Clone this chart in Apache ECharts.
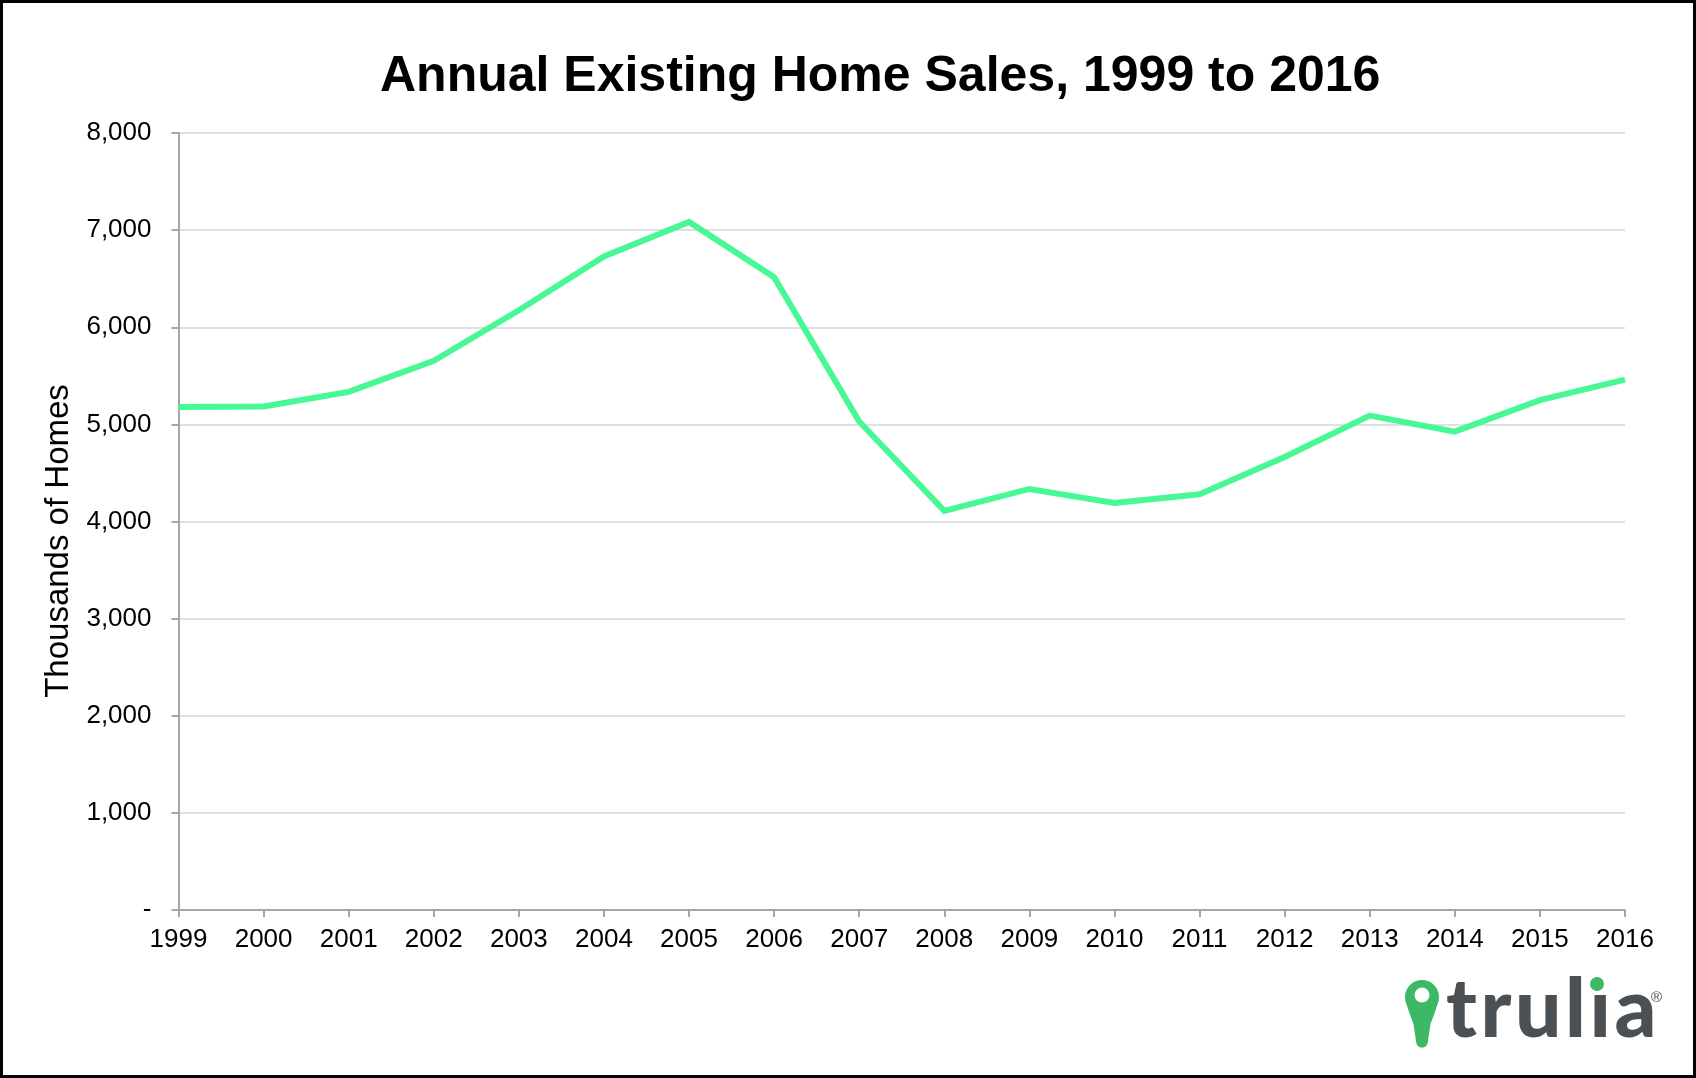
<!DOCTYPE html>
<html>
<head>
<meta charset="utf-8">
<script src="https://cdn.jsdelivr.net/npm/echarts@6/dist/echarts.min.js"></script>
<style>
  html, body { margin: 0; padding: 0; background: #fff; }
  #chart { width: 1696px; height: 1078px; }
</style>
</head>
<body>
<div id="chart"></div>
<script>
const titleText = 'Annual Existing Home Sales, 1999 to 2016';
const yAxisName = 'Thousands of Homes';
const years = ['1999','2000','2001','2002','2003','2004','2005','2006','2007','2008','2009','2010','2011','2012','2013','2014','2015','2016'];
const sales = [5180, 5185, 5335, 5655, 6175, 6730, 7085, 6515, 5030, 4110, 4335, 4190, 4280, 4665, 5090, 4925, 5250, 5460];
const yTicks = [0, 1000, 2000, 3000, 4000, 5000, 6000, 7000, 8000];
const logoLetters = ['t', 'r', 'u', 'l', '\u0131', 'a'];

const chart = echarts.init(document.getElementById('chart'), null, { renderer: 'canvas' });
const sans = '"Liberation Sans", Arial, sans-serif';
const logoText = logoLetters.map((c, i) => '{' + (i < logoLetters.length - 1 ? 'g' : 'e') + '|' + c + '}').join('');
const logoFont = { fontFamily: 'Lato, "Open Sans", sans-serif', fontWeight: 900, fontSize: 82, fill: '#4A5054' };
const option = {
  backgroundColor: '#ffffff',
  animation: false,
  title: {
    text: titleText,
    left: 375,
    top: 47,
    textStyle: { fontFamily: sans, fontWeight: 'bold', fontSize: 50, color: '#000' }
  },
  grid: { left: 178.5, right: 71, top: 133, bottom: 168, containLabel: false },
  xAxis: {
    type: 'category',
    data: years,
    boundaryGap: false,
    axisLine: { lineStyle: { color: '#a6a6a6', width: 2 } },
    axisTick: { show: true, length: 7, interval: 0, alignWithLabel: true, lineStyle: { color: '#a6a6a6', width: 2 } },
    axisLabel: { interval: 0, margin: 17, fontFamily: sans, fontSize: 26, color: '#000' },
    splitLine: { show: false }
  },
  yAxis: {
    type: 'value',
    min: yTicks[0],
    max: yTicks[yTicks.length - 1],
    interval: 1000,
    name: yAxisName,
    nameLocation: 'middle',
    nameGap: 100,
    nameTextStyle: { fontFamily: sans, fontSize: 33, color: '#000', padding: [0, 39, 0, 0] },
    axisLine: { show: true, lineStyle: { color: '#a6a6a6', width: 2 } },
    axisTick: { show: true, length: 7, lineStyle: { color: '#a6a6a6', width: 2 } },
    axisLabel: {
      margin: 27,
      fontFamily: sans,
      fontSize: 26,
      color: '#000',
      formatter: v => v === 0 ? '-' : v.toLocaleString('en-US')
    },
    splitLine: { show: true, lineStyle: { color: '#d6d6d6', width: 1.5 } }
  },
  series: [{
    type: 'line',
    data: sales,
    symbol: 'none',
    lineStyle: { color: '#48F895', width: 6, join: 'miter' },
    z: 5
  }],
  graphic: [
    { type: 'rect', shape: { x: 1.5, y: 1.5, width: 1693, height: 1075 }, style: { fill: 'none', stroke: '#000', lineWidth: 3 }, z: 100, silent: true },
    { type: 'circle', shape: { cx: 1422, cy: 997, r: 17 }, style: { fill: '#3DB865' }, z: 50 },
    { type: 'polygon', shape: { points: [[1405.3, 1000], [1438.7, 1000], [1435, 1012], [1430.5, 1024], [1427.8, 1042], [1416.2, 1042], [1413.5, 1024], [1409, 1012]] }, style: { fill: '#3DB865' }, z: 50 },
    { type: 'circle', shape: { cx: 1422, cy: 1042, r: 5.8 }, style: { fill: '#3DB865' }, z: 50 },
    { type: 'circle', shape: { cx: 1422, cy: 995, r: 7.5 }, style: { fill: '#fff' }, z: 51 },
    { type: 'text', x: 1446, y: 1011, style: Object.assign({
        text: logoText,
        textVerticalAlign: 'middle',
        rich: {
          g: Object.assign({ padding: [0, 3.6, 0, 0] }, logoFont),
          e: Object.assign({}, logoFont)
        }
      }, logoFont), z: 50 },
    { type: 'circle', shape: { cx: 1597, cy: 984, r: 7 }, style: { fill: '#3DB865' }, z: 52 },
    { type: 'text', x: 1651, y: 990, style: { text: '\u00AE', fontFamily: sans, fontSize: 15, fill: '#4A5054' }, z: 50 }
  ]
};
chart.setOption(option);
</script>
</body>
</html>
